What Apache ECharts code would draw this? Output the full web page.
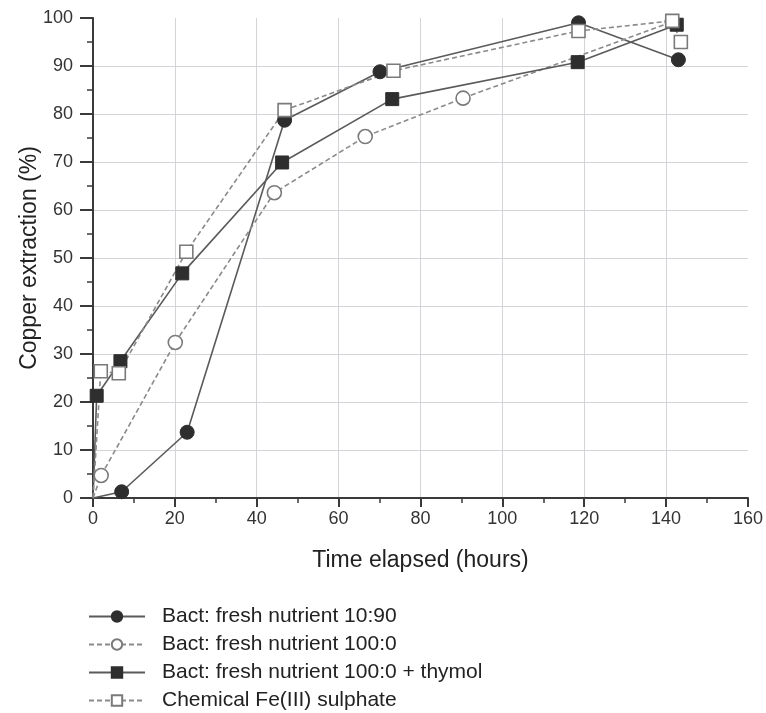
<!DOCTYPE html>
<html>
<head>
<meta charset="utf-8">
<script src="https://cdn.jsdelivr.net/npm/echarts@6/dist/echarts.min.js"></script>
<style>
html,body{margin:0;padding:0;background:#fff;}
#main{width:766px;height:713px;}
</style>
</head>
<body>
<div id="main"></div>
<script>
/*数据*/
var names = ['Bact: fresh nutrient 10:90', 'Bact: fresh nutrient 100:0', 'Bact: fresh nutrient 100:0 + thymol', 'Chemical Fe(III) sulphate'];

var hours1 = [0, 7.0, 23.0, 46.8, 70.1, 118.6, 143.0];
var cu1    = [0, 1.3, 13.7, 78.7, 88.8, 99.0, 91.3];

var hours2 = [0, 2.0, 20.1, 44.3, 66.5, 90.4, 141.5];
var cu2    = [0, 4.7, 32.4, 63.6, 75.3, 83.3, 99.2];

var hours3 = [0, 0.9, 6.7, 21.8, 46.2, 73.1, 118.4, 142.6];
var cu3    = [0, 21.3, 28.5, 46.8, 69.9, 83.1, 90.8, 98.6];

var hours4 = [0, 1.9, 6.3, 22.8, 46.8, 73.4, 118.6, 141.5, 143.6];
var cu4    = [0, 26.4, 26.0, 51.3, 80.8, 89.0, 97.3, 99.4, 95.0];

var xTicks = [0, 20, 40, 60, 80, 100, 120, 140, 160];
var yTicks = [0, 10, 20, 30, 40, 50, 60, 70, 80, 90, 100];

function pts(xs, ys){
    var out = [];
    for (var i = 0; i < xs.length; i++) {
        if (xs[i] === 0 && ys[i] === 0) {
            out.push({value: [xs[i], ys[i]], symbol: 'none'});
        } else {
            out.push([xs[i], ys[i]]);
        }
    }
    return out;
}

var font = 'Liberation Sans, Arial, sans-serif';
var axisCol = '#3a3a3a';

function mkSeries(name, xs, ys, symbol, filled, dashed){
    return {
        name: name,
        type: 'line',
        data: pts(xs, ys),
        symbol: symbol,
        symbolSize: symbol == 'circle' ? 14 : 13,
        clip: false,
        animation: false,
        lineStyle: {
            color: dashed ? '#8a8a8a' : '#5a5a5a',
            width: 1.6,
            type: dashed ? [5, 3] : 'solid'
        },
        itemStyle: filled ? {color: '#2e2e2e', borderColor: '#2e2e2e', borderWidth: 1} :
            {color: '#ffffff', borderColor: '#7a7a7a', borderWidth: 1.6}
    };
}

var myChart = echarts.init(document.getElementById('main'));
myChart.setOption({
    backgroundColor: '#ffffff',
    textStyle: {fontFamily: font},
    grid: {left: 93, right: 16, top: 18, bottom: 215, containLabel: false},
    legend: {
        data: names,
        orient: 'vertical',
        left: 88,
        top: 606,
        padding: 0,
        itemWidth: 56,
        itemHeight: 13,
        itemGap: 7,
        textStyle: {fontSize: 21, color: '#222', fontFamily: font, padding: [0, 0, 0, 12]}
    },
    xAxis: {
        type: 'value',
        min: 0, max: 160, interval: 20,
        name: 'Time elapsed (hours)',
        nameLocation: 'middle',
        nameGap: 51,
        nameMoveOverlap: false,
        nameTextStyle: {fontSize: 23, color: '#222', fontFamily: font},
        axisLine: {show: true, onZero: false, lineStyle: {color: axisCol, width: 2}},
        axisTick: {show: true, length: 9, lineStyle: {color: axisCol, width: 2}},
        minorTick: {show: true, splitNumber: 2, length: 5, lineStyle: {color: axisCol, width: 1.5}},
        axisLabel: {fontSize: 18, color: '#333', margin: 12, fontFamily: font,
            formatter: function(v){ return xTicks.indexOf(v) > -1 ? String(v) : ''; }},
        splitLine: {show: true, showMinLine: false, showMaxLine: false, lineStyle: {color: '#d4d4d8', width: 1}}
    },
    yAxis: {
        type: 'value',
        min: 0, max: 100, interval: 10,
        name: 'Copper extraction (%)',
        nameLocation: 'middle',
        nameGap: 52,
        nameMoveOverlap: false,
        nameRotate: 90,
        nameTextStyle: {fontSize: 23, color: '#222', fontFamily: font},
        axisLine: {show: true, onZero: false, lineStyle: {color: axisCol, width: 2}},
        axisTick: {show: true, length: 13, lineStyle: {color: axisCol, width: 2}},
        minorTick: {show: true, splitNumber: 2, length: 6, lineStyle: {color: axisCol, width: 1.5}},
        axisLabel: {fontSize: 18, color: '#333', margin: 20, fontFamily: font,
            formatter: function(v){ return yTicks.indexOf(v) > -1 ? String(v) : ''; }},
        splitLine: {show: true, showMinLine: false, showMaxLine: false, lineStyle: {color: '#d4d4d8', width: 1}}
    },
    series: [
        mkSeries(names[0], hours1, cu1, 'circle', true, false),
        mkSeries(names[1], hours2, cu2, 'circle', false, true),
        mkSeries(names[2], hours3, cu3, 'rect', true, false),
        mkSeries(names[3], hours4, cu4, 'rect', false, true)
    ]
});
</script>
</body>
</html>
